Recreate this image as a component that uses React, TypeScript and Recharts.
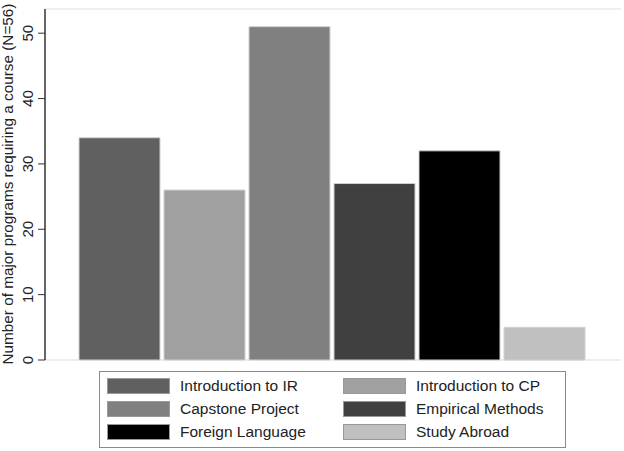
import React from 'react';
import { BarChart, Bar, XAxis, YAxis, CartesianGrid } from 'recharts';

// Courses and how many of the 56 programs require each
const courseNames = [
  'Introduction to IR',
  'Introduction to CP',
  'Capstone Project',
  'Empirical Methods',
  'Foreign Language',
  'Study Abroad',
];
const courseCounts = [34, 26, 51, 27, 32, 5];
const courseColors = ['#606060', '#a0a0a0', '#808080', '#404040', '#000000', '#c0c0c0'];
const yTicks = [0, 10, 20, 30, 40, 50];
const yLabel = 'Number of major programs requiring a course (N=56)';

const FONT = '"Liberation Sans", Arial, Helvetica, sans-serif';

// single category row, one key per course
const keyOf = (i: number) => `c${i}`;
const row: any = { cat: '' };
courseCounts.forEach((v, i) => {
  row[keyOf(i)] = v;
});
const chartData = [row];

// Stata-ish vertical tick labels
const RotatedTick = (props: any) => {
  const { y, payload } = props;
  return (
    <text
      x={33}
      y={y}
      transform={`rotate(-90, 33, ${y})`}
      textAnchor="middle"
      fontSize={15}
      fontFamily={FONT}
      fill="#222"
    >
      {payload.value}
    </text>
  );
};

const AxisTitle = () => (
  <text
    x={13}
    y={184}
    transform="rotate(-90, 13, 184)"
    textAnchor="middle"
    fontSize={15.3}
    fontFamily={FONT}
    fill="#222"
  >
    {yLabel}
  </text>
);

const LegendBox = () => (
  <div
    style={{
      position: 'absolute',
      left: 99,
      top: 371,
      width: 465,
      height: 75,
      border: '1px solid #8a8a8a',
      fontFamily: FONT,
      fontSize: 15.5,
      color: '#222',
    }}
  >
    {courseNames.map((name, i) => {
      const col = i % 2;
      const r = Math.floor(i / 2);
      return (
        <div
          key={name}
          style={{
            position: 'absolute',
            left: col === 0 ? 7 : 243,
            top: 6 + r * 23,
            display: 'flex',
            alignItems: 'center',
            height: 15,
          }}
        >
          <div
            style={{
              width: 61,
              height: 14,
              background: courseColors[i],
              border: '1px solid #999',
              marginRight: 10,
            }}
          />
          <span>{name}</span>
        </div>
      );
    })}
  </div>
);

export default function App() {
  return (
    <div style={{ position: 'absolute', left: 0, top: 0, width: 624, height: 451, background: '#fff' }}>
      <BarChart
        width={624}
        height={451}
        data={chartData}
        margin={{ top: 9, right: 3, bottom: 91, left: 0 }}
        barCategoryGap={34}
        barGap={4}
      >
        <CartesianGrid horizontal vertical={false} stroke="#e8e8e8" strokeWidth={1.5} />
        <XAxis dataKey="cat" xAxisId="b" tick={false} tickLine={false} height={0} axisLine={{ stroke: '#333', strokeWidth: 1.5 }} />
        <XAxis dataKey="cat" xAxisId="t" orientation="top" tick={false} tickLine={false} height={0} axisLine={{ stroke: '#999', strokeWidth: 2 }} />
        <YAxis
          yAxisId="l"
          width={45}
          domain={[0, 53.7]}
          ticks={yTicks}
          interval={0}
          tick={<RotatedTick />}
          tickSize={7}
          tickLine={{ stroke: '#333' }}
          axisLine={{ stroke: '#333', strokeWidth: 1.5 }}
          label={<AxisTitle />}
        />
        <YAxis yAxisId="r" orientation="right" width={0} domain={[0, 53.7]} tick={false} tickLine={false} axisLine={{ stroke: '#999', strokeWidth: 2 }} />
        {courseNames.map((name, i) => (
          <Bar
            key={name}
            name={name}
            dataKey={keyOf(i)}
            xAxisId="b"
            yAxisId="l"
            fill={courseColors[i]}
            stroke="#d0d0d0"
            strokeWidth={1}
            isAnimationActive={false}
          />
        ))}
      </BarChart>
      <LegendBox />
    </div>
  );
}
